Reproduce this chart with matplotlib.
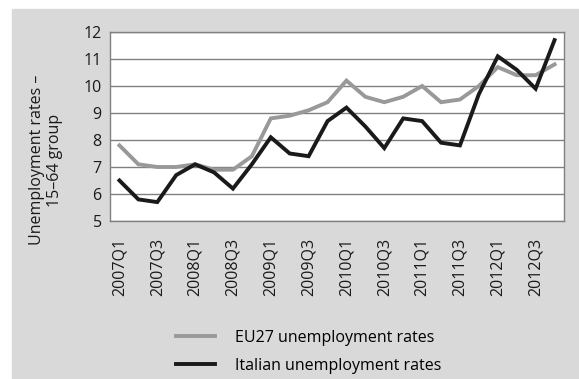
import numpy as np
import matplotlib.pyplot as plt
from matplotlib.patches import Rectangle

plt.rcParams["font.family"] = ["Open Sans", "DejaVu Sans"]

quarters = [f"{y}Q{q}" for y in range(2007, 2013) for q in range(1, 5)]
eu27 = [7.8, 7.1, 7.0, 7.0, 7.1, 6.9, 6.9, 7.4, 8.8, 8.9, 9.1, 9.4,
        10.2, 9.6, 9.4, 9.6, 10.0, 9.4, 9.5, 10.0, 10.7, 10.4, 10.4, 10.8]
italy = [6.5, 5.8, 5.7, 6.7, 7.1, 6.8, 6.2, 7.1, 8.1, 7.5, 7.4, 8.7,
         9.2, 8.5, 7.7, 8.8, 8.7, 7.9, 7.8, 9.7, 11.1, 10.6, 9.9, 11.7]

fig = plt.figure(figsize=(5.79, 3.79), dpi=100)
# grey panel behind the chart
fig.patches.append(Rectangle((12 / 579, 0), 1, 1 - 9 / 379, transform=fig.transFigure,
                             color="#d9d9d9", zorder=-1))

ax = fig.add_axes([110 / 579, 1 - 221 / 379, 454 / 579, 189 / 379])
x = np.arange(len(quarters))
l1, = ax.plot(x, eu27, color="#999999", lw=2.8, solid_joinstyle="miter",
              label="EU27 unemployment rates")
l2, = ax.plot(x, italy, color="#1a1a1a", lw=2.8, solid_joinstyle="miter",
              label="Italian unemployment rates")

ax.set_xlim(-0.5, len(quarters) - 0.5)
ax.set_ylim(5, 12)
ax.set_yticks(range(5, 13))
ax.set_xticks(x[::2])
ax.set_xticklabels(quarters[::2], rotation=90)
ax.tick_params(length=0, labelsize=11.5, colors="#1a1a1a")
ax.tick_params(axis="y", pad=6)
ax.tick_params(axis="x", pad=12)
ax.grid(axis="y", color="#808080", lw=1)
ax.set_axisbelow(True)
for s in ax.spines.values():
    s.set_color("#808080")
    s.set_linewidth(1)

fig.text(46 / 579, 1 - 160 / 379, "Unemployment rates –\n15–64 group", rotation=90,
         ha="center", va="center", fontsize=11.5, color="#1a1a1a", linespacing=1.15)

fig.legend(handles=[l1, l2], loc="center left", bbox_to_anchor=(162 / 579, 1 - 352 / 379),
           frameon=False, fontsize=11.5, handlelength=2.4, handletextpad=1.3,
           labelspacing=0.75)

fig.savefig("out.png", dpi=100)
